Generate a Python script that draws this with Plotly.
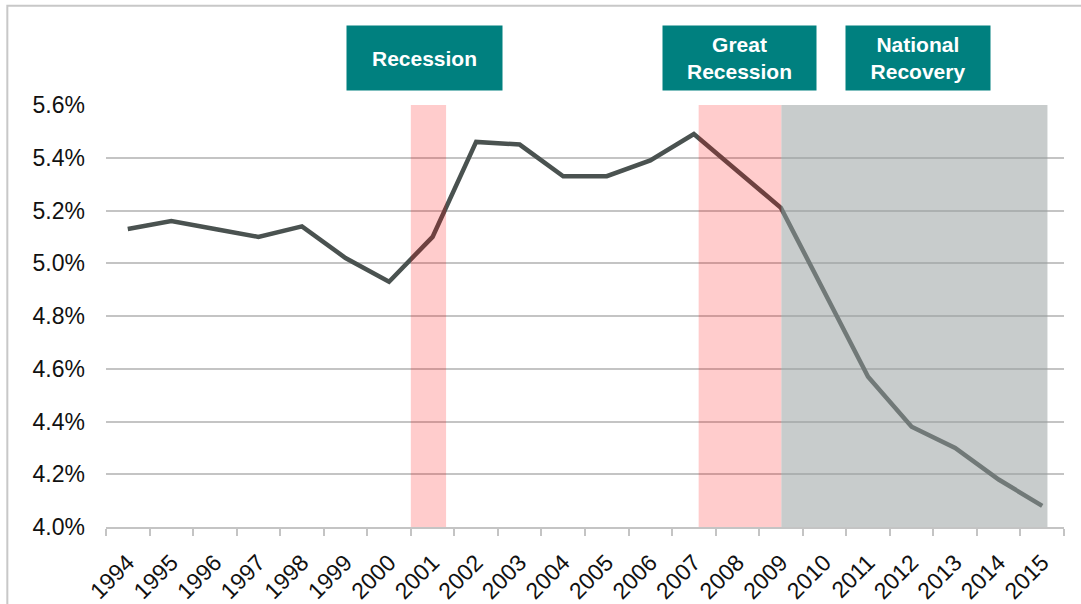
import plotly.graph_objects as go

years = [str(y) for y in range(1994, 2016)]
share_pct = [5.13, 5.16, 5.13, 5.10, 5.14, 5.02, 4.93, 5.10, 5.46, 5.45, 5.33,
             5.33, 5.39, 5.49, 5.35, 5.21, 4.89, 4.57, 4.38, 4.30, 4.18, 4.08]

y_ticks = [4.0, 4.2, 4.4, 4.6, 4.8, 5.0, 5.2, 5.4, 5.6]

# shaded periods, in category index units (0 = 1994)
period_names = ["Recession", "Great<br>Recession", "National<br>Recovery"]
period_start = [6.5, 13.11, 15.01]
period_end = [7.31, 15.01, 21.12]
period_fill = ["rgba(255,0,0,0.2)", "rgba(255,0,0,0.2)", "rgba(150,158,158,0.52)"]
label_center = [6.82, 14.04, 18.15]
label_width = [155, 153, 144]

TEAL = "#00807f"
FONT = "Liberation Sans, Arial, sans-serif"

fig = go.Figure()
fig.add_trace(go.Scatter(
    x=years,
    y=share_pct,
    mode="lines",
    line=dict(color="#4a5250", width=4.5),
    hoverinfo="x+y",
    showlegend=False,
))

shapes = []
for x0, x1, fill in zip(period_start, period_end, period_fill):
    shapes.append(dict(type="rect", xref="x", yref="y", x0=x0, x1=x1,
                       y0=4.0, y1=5.6, fillcolor=fill, line_width=0,
                       layer="above"))

# outer frame of the chart
shapes.append(dict(type="rect", xref="paper", yref="paper",
                   x0=-0.103, x1=1.04, y0=-0.25, y1=1.235,
                   line=dict(color="#c8c8c8", width=2), fillcolor="rgba(0,0,0,0)"))

annotations = []
for name, xc, w in zip(period_names, label_center, label_width):
    annotations.append(dict(
        x=xc, xref="x", y=1.112, yref="paper",
        text="<b>" + name + "</b>", showarrow=False,
        font=dict(family=FONT, size=21, color="white"),
        bgcolor=TEAL, width=w, height=64, borderpad=0,
        xanchor="center", yanchor="middle", align="center",
    ))

fig.update_layout(
    width=1081, height=604,
    margin=dict(l=106, r=17, t=105, b=77),
    paper_bgcolor="white", plot_bgcolor="white",
    font=dict(family=FONT, color="#111111"),
    shapes=shapes,
    annotations=annotations,
    xaxis=dict(
        type="category",
        tickson="boundaries",
        ticks="outside", ticklen=7, tickwidth=2, tickcolor="#c4c4c4",
        showline=True, linecolor="#c4c4c4", linewidth=2,
        showgrid=False,
        tickangle=-45,
        tickfont=dict(size=23, color="#111111"),
        ticklabelstandoff=11,
        automargin=False,
        range=[-0.5, 21.5],
    ),
    yaxis=dict(
        range=[4.0, 5.6],
        tickvals=y_ticks,
        ticktext=["%.1f%%" % v for v in y_ticks],
        showgrid=True, gridcolor="#c4c4c4", gridwidth=2,
        zeroline=False, showline=False,
        tickfont=dict(size=23, color="#111111"),
        ticks="", ticklabelstandoff=20,
        automargin=False,
    ),
)

fig.write_html("out.html", config={"responsive": False, "displayModeBar": False},
               post_script="document.body.style.margin='0';")
